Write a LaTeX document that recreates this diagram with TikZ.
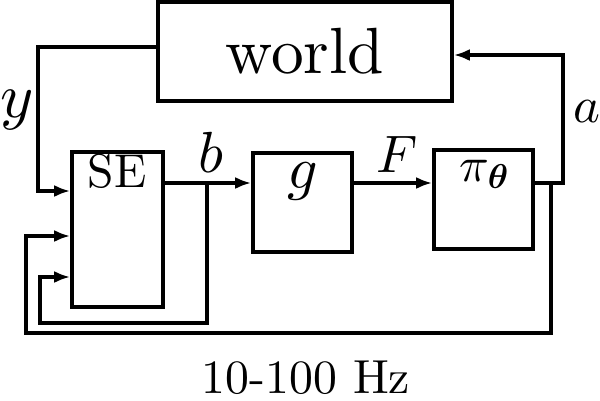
\documentclass[tikz,border=0pt]{standalone}
\usepackage{amsmath,bm}
\usetikzlibrary{arrows.meta, positioning, calc}
\DeclareFontShape{TU}{lmr}{m}{n}{<->"[lmroman10-regular.otf]:mapping=tex-text"}{}
\DeclareFontShape{OML}{cmm}{m}{it}{<->cmmi10}{}
\DeclareFontShape{OML}{cmm}{b}{it}{<->cmmib10}{}

\begin{document}
\begin{tikzpicture}[line width=1.05pt,
    blk/.style={draw, inner sep=0pt},
    arr/.style={-{Latex[length=1.6mm,width=1.2mm]}},
    lbl/.style={anchor=base, inner sep=0pt}]
  \useasboundingbox (0,0) rectangle (6,-4.01);
  \node[blk, minimum width=2.94cm, minimum height=0.99cm, font=\fontsize{18.6}{21}\selectfont] (world) at (3.05,-0.515) {world};
  \node[blk, minimum width=0.91cm, minimum height=1.55cm] (se) at (1.175,-2.295) {};
  \node[blk, minimum width=0.99cm, minimum height=0.99cm] (g) at (3.025,-2.025) {};
  \node[blk, minimum width=0.99cm, minimum height=0.99cm] (pi) at (4.835,-1.995) {};
  \node[lbl, font=\fontsize{13.5}{15}\selectfont] (setext) at (1.17,-1.87) {SE};
  \node[lbl, font=\fontsize{17}{19}\selectfont] (gtext) at (3.03,-1.88) {$g$};
  \node[lbl, font=\fontsize{14}{16}\selectfont] (pitext) at (4.85,-1.81) {$\pi_{\bm\theta}$};

  \coordinate (bsplit) at (2.07,-1.83);
  \coordinate (bdown) at (2.07,-3.23);
  \coordinate (bleft) at (0.40,-2.77);
  \coordinate (yleft) at (0.38,-1.91);
  \coordinate (aup) at (5.63,-0.55);
  \coordinate (asplit) at (5.51,-1.83);
  \coordinate (fbdown) at (5.51,-3.33);
  \coordinate (fbleft) at (0.26,-2.36);

  \draw[arr] ([yshift=0.45mm]world.west) -| (yleft) -- (se.west |- yleft);
  \draw[arr] (se.east |- bsplit) -- (g.west |- bsplit);
  \draw[arr] (bsplit) -- (bdown) -| (bleft) -- (se.west |- bleft);
  \draw[arr] (g.east |- bsplit) -- (pi.west |- bsplit);
  \draw[arr] (pi.east |- asplit) -| (aup) -- (world.east |- aup);
  \draw[arr] (asplit) -- (fbdown) -| (fbleft) -- (se.west |- fbleft);

  \node[lbl, font=\fontsize{18}{20}\selectfont] (ylbl) at (0.17,-1.17) {$y$};
  \node[lbl, font=\fontsize{14.5}{16}\selectfont] (albl) at (5.87,-1.22) {$a$};
  \node[lbl, font=\fontsize{16.5}{18}\selectfont] (blbl) at (2.11,-1.72) {$b$};
  \node[lbl, font=\fontsize{15}{17}\selectfont] (flbl) at (3.97,-1.72) {$F$};
  \node[lbl, font=\fontsize{13.6}{15}\selectfont] (hz) at (3.06,-3.93) {10-100 Hz};
\end{tikzpicture}
\end{document}
